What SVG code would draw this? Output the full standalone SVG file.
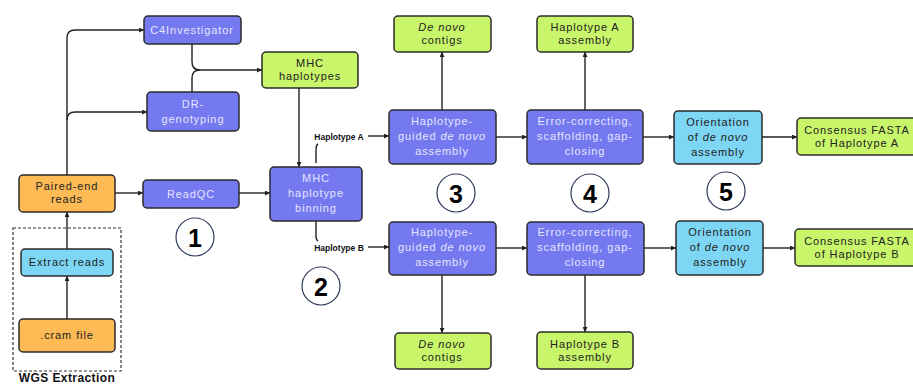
<svg xmlns="http://www.w3.org/2000/svg" width="913" height="384" viewBox="0 0 913 384">
<defs>
<marker id="ah" viewBox="0 0 10 10" refX="10" refY="5" markerWidth="5" markerHeight="5" orient="auto" markerUnits="userSpaceOnUse"><path d="M0,0 L10,5 L0,10 z" fill="#222"/></marker>
<style>
.box{stroke:#2b2b2b;stroke-width:1.5}
.blue{fill:#7479F0}
.green{fill:#C8F56A}
.orange{fill:#FDBA55}
.cyan{fill:#7ED6F5}
text{font-family:"Liberation Sans",Arial,sans-serif;font-size:11px;letter-spacing:0.9px;text-anchor:middle;dominant-baseline:central}
.lt{fill:#E4E6FF}
.dk{fill:#222}
.lbl{font-family:"Liberation Sans",Arial,sans-serif;font-weight:bold;font-size:8.5px;letter-spacing:0;fill:#111}
.num{font-family:"Liberation Sans",Arial,sans-serif;font-weight:bold;font-size:25px;letter-spacing:0;fill:#000}
.circ{fill:#fff;stroke:#2d3a5c;stroke-width:1.2}
.c{fill:none;stroke:#222;stroke-width:1.4}
</style>
</defs>
<rect width="913" height="384" fill="#fff"/>

<g id="connectors">
<path class="c" d="M67,175 V38 Q67,30 75,30 H144" marker-end="url(#ah)"/>
<path class="c" d="M67,120 Q67,112 75,112 H147" marker-end="url(#ah)"/>
<path class="c" d="M192,44 V62 Q192,70 200,70 H262" marker-end="url(#ah)"/>
<path class="c" d="M192,92 V78 Q192,70 200,70"/>
<path class="c" d="M299,88 V167" marker-end="url(#ah)"/>
<path class="c" d="M115,193 H143" marker-end="url(#ah)"/>
<path class="c" d="M239,193 H270" marker-end="url(#ah)"/>
<path class="c" d="M67,249 V212" marker-end="url(#ah)"/>
<path class="c" d="M67,319 V276" marker-end="url(#ah)"/>
<path class="c" d="M316,163 V150 Q316,145 318,144"/>
<path class="c" d="M368,136 H389" marker-end="url(#ah)"/>
<path class="c" d="M316,221 V236 Q316,240 318,241"/>
<path class="c" d="M368,247 H389" marker-end="url(#ah)"/>
<path class="c" d="M442,110 V52" marker-end="url(#ah)"/>
<path class="c" d="M585,110 V52" marker-end="url(#ah)"/>
<path class="c" d="M496,137 H527" marker-end="url(#ah)"/>
<path class="c" d="M643,137 H674" marker-end="url(#ah)"/>
<path class="c" d="M762,137 H797" marker-end="url(#ah)"/>
<path class="c" d="M442,275 V333" marker-end="url(#ah)"/>
<path class="c" d="M585,275 V332" marker-end="url(#ah)"/>
<path class="c" d="M496,248 H527" marker-end="url(#ah)"/>
<path class="c" d="M644,248 H676" marker-end="url(#ah)"/>
<path class="c" d="M763,248 H795" marker-end="url(#ah)"/>
</g>

<g id="wgs-extraction">
<rect x="13" y="228" width="108" height="143" fill="none" stroke="#333" stroke-width="1.2" stroke-dasharray="3,2"/>
<text x="67" y="378" class="lbl" style="font-size:12px;letter-spacing:0.4px">WGS Extraction</text>
</g>

<g id="c4investigator"><rect class="box blue" x="144" y="16" width="97" height="28" rx="4"/><text class="lt" x="192" y="30">C4Investigator</text></g>
<g id="mhc-haplotypes"><rect class="box green" x="262" y="52" width="96" height="36" rx="4"/><text class="dk" x="310" y="63">MHC</text><text class="dk" x="310" y="76">haplotypes</text></g>
<g id="dr-genotyping"><rect class="box blue" x="147" y="92" width="92" height="39" rx="4"/><text class="lt" x="193" y="104">DR-</text><text class="lt" x="193" y="119">genotyping</text></g>
<g id="paired-end"><rect class="box orange" x="19" y="175" width="96" height="37" rx="4"/><text class="dk" x="67" y="186">Paired-end</text><text class="dk" x="67" y="199">reads</text></g>
<g id="readqc"><rect class="box blue" x="143" y="180" width="96" height="28" rx="4"/><text class="lt" x="191" y="194">ReadQC</text></g>
<g id="binning"><rect class="box blue" x="270" y="167" width="92" height="54" rx="4"/><text class="lt" x="316" y="178">MHC</text><text class="lt" x="316" y="193">haplotype</text><text class="lt" x="316" y="208">binning</text></g>
<g id="extract-reads"><rect class="box cyan" x="21" y="249" width="92" height="27" rx="4"/><text class="dk" x="67" y="262">Extract reads</text></g>
<g id="cram-file"><rect class="box orange" x="19" y="319" width="96" height="33" rx="4"/><text class="dk" x="67" y="335">.cram file</text></g>

<g id="label-hapA"><text class="lbl" x="339" y="137">Haplotype A</text></g>
<g id="label-hapB"><text class="lbl" x="339" y="248">Haplotype B</text></g>

<g id="contigs-a"><rect class="box green" x="394" y="16" width="97" height="36" rx="4"/><text class="dk" x="442" y="27" font-style="italic">De novo</text><text class="dk" x="442" y="40">contigs</text></g>
<g id="hapguided-a"><rect class="box blue" x="389" y="110" width="107" height="54" rx="4"/><text class="lt" x="442" y="121">Haplotype-</text><text class="lt" x="442" y="136">guided <tspan font-style="italic">de novo</tspan></text><text class="lt" x="442" y="151">assembly</text></g>
<g id="hapA-assembly"><rect class="box green" x="537" y="16" width="96" height="36" rx="4"/><text class="dk" x="585" y="27">Haplotype A</text><text class="dk" x="585" y="40">assembly</text></g>
<g id="error-a"><rect class="box blue" x="527" y="110" width="116" height="54" rx="4"/><text class="lt" x="585" y="121">Error-correcting,</text><text class="lt" x="585" y="136">scaffolding, gap-</text><text class="lt" x="585" y="151">closing</text></g>
<g id="orient-a"><rect class="box cyan" x="674" y="111" width="88" height="53" rx="4"/><text class="dk" x="718" y="122">Orientation</text><text class="dk" x="718" y="137">of <tspan font-style="italic">de novo</tspan></text><text class="dk" x="718" y="152">assembly</text></g>
<g id="consensus-a"><rect class="box green" x="797" y="118" width="125" height="37" rx="4"/><text class="dk" x="857" y="130">Consensus FASTA</text><text class="dk" x="857" y="143">of Haplotype A</text></g>

<g id="hapguided-b"><rect class="box blue" x="389" y="222" width="107" height="53" rx="4"/><text class="lt" x="442" y="232">Haplotype-</text><text class="lt" x="442" y="247">guided <tspan font-style="italic">de novo</tspan></text><text class="lt" x="442" y="262">assembly</text></g>
<g id="error-b"><rect class="box blue" x="527" y="222" width="117" height="53" rx="4"/><text class="lt" x="585" y="232">Error-correcting,</text><text class="lt" x="585" y="247">scaffolding, gap-</text><text class="lt" x="585" y="262">closing</text></g>
<g id="orient-b"><rect class="box cyan" x="676" y="221" width="87" height="54" rx="4"/><text class="dk" x="720" y="232">Orientation</text><text class="dk" x="720" y="247">of <tspan font-style="italic">de novo</tspan></text><text class="dk" x="720" y="262">assembly</text></g>
<g id="consensus-b"><rect class="box green" x="795" y="229" width="127" height="37" rx="4"/><text class="dk" x="857" y="241">Consensus FASTA</text><text class="dk" x="857" y="254">of Haplotype B</text></g>
<g id="contigs-b"><rect class="box green" x="395" y="333" width="96" height="36" rx="4"/><text class="dk" x="442" y="344" font-style="italic">De novo</text><text class="dk" x="442" y="357">contigs</text></g>
<g id="hapB-assembly"><rect class="box green" x="537" y="332" width="96" height="37" rx="4"/><text class="dk" x="585" y="344">Haplotype B</text><text class="dk" x="585" y="357">assembly</text></g>

<g id="step-1"><circle class="circ" cx="195" cy="237" r="19"/><text class="num" x="195" y="238">1</text></g>
<g id="step-2"><circle class="circ" cx="321" cy="286" r="19"/><text class="num" x="321" y="287">2</text></g>
<g id="step-3"><circle class="circ" cx="456" cy="193" r="19"/><text class="num" x="456" y="194">3</text></g>
<g id="step-4"><circle class="circ" cx="590" cy="193" r="19"/><text class="num" x="590" y="194">4</text></g>
<g id="step-5"><circle class="circ" cx="726" cy="191" r="19"/><text class="num" x="726" y="192">5</text></g>
</svg>
